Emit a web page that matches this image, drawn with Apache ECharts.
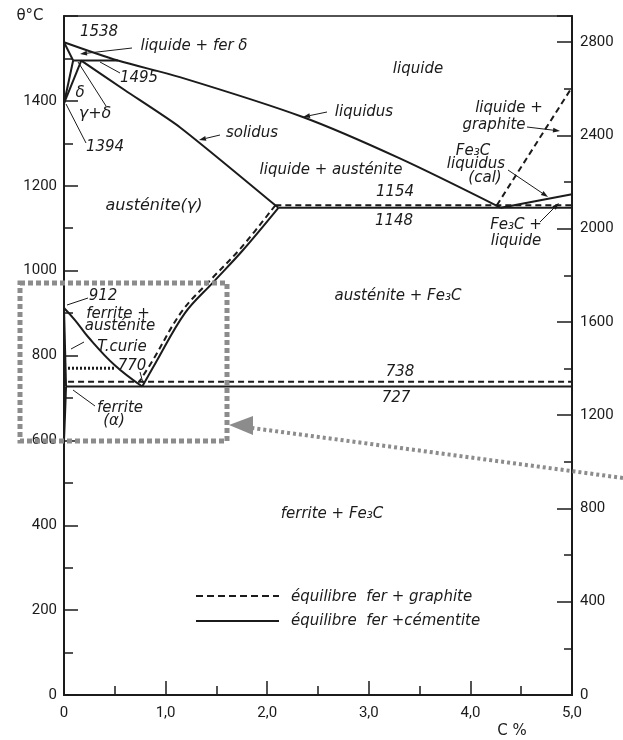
<!DOCTYPE html>
<html><head><meta charset="utf-8">
<script src="https://cdn.jsdelivr.net/npm/echarts@6/dist/echarts.min.js"></script>
<style>html,body{margin:0;padding:0;background:#fff}#chart{width:623px;height:740px}</style>
</head><body><div id="chart"></div>
<script>
// Characteristic temperatures, °C
const T_FUSION = 1538, T_PERITECTIC = 1495, T_DELTA_GAMMA = 1394;
const T_EUTECTIC = 1148, T_EUTECTIC_GR = 1154;
const T_A3_PURE = 912, T_CURIE = 770, T_EUTECTOID = 727, T_EUTECTOID_GR = 738;

// Fe – Fe3C system (solid lines), points as [C %, °C]
const liquidus = [[0, 1538], [0.53, 1495], [1.14, 1456], [2.35, 1362], [3.3, 1265], [4.3, 1148]];
const deltaSolidus = [[0, 1538], [0.09, 1495]];
const peritectic = [[0.09, 1495], [0.53, 1495]];
const deltaLimit = [[0.09, 1495], [0, 1394]];
const gammaLimit = [[0.17, 1495], [0, 1394]];
const solidus = [[0.17, 1495], [0.6, 1425], [1.14, 1338], [2.11, 1148]];
const eutectic = [[2.11, 1148], [5, 1148]];
const acm = [[2.11, 1148], [1.76, 1048], [1.47, 973], [1.19, 900], [0.9, 782], [0.77, 727]];
const a3 = [[0, 912], [0.11, 883], [0.24, 843], [0.5, 777], [0.77, 727]];
const alphaLimit = [[0, 912], [0.02, 727]];
const alphaSolvus = [[0.02, 727], [0.01, 660], [0, 600]];
const eutectoid = [[0.02, 727], [5, 727]];
const cementiteLiquidus = [[4.3, 1148], [5, 1180]];

// Fe – graphite system (dashed lines)
const eutecticGr = [[2.08, 1154], [5, 1154]];
const eutectoidGr = [[0.04, 738], [5, 738]];
const acmGr = [[2.08, 1154], [1.74, 1053], [1.45, 980], [1.16, 904], [0.87, 787], [0.74, 738]];
const graphiteLiquidus = [[4.26, 1154], [5, 1432]];

// Curie temperature of ferrite (dotted)
const curie = [[0, 770], [0.5, 770]];

const INK = '#1b1b1b';

// [points, smoothing]
const solidSets = [[liquidus, 0.3], [deltaSolidus, 0], [peritectic, 0], [deltaLimit, 0], [gammaLimit, 0],
  [solidus, 0.2], [eutectic, 0], [acm, 0.35], [a3, 0.4], [alphaLimit, 0], [alphaSolvus, 0.3],
  [eutectoid, 0], [cementiteLiquidus, 0]];
const dashedSets = [[eutecticGr, 0], [eutectoidGr, 0], [acmGr, 0.35], [graphiteLiquidus, 0]];

const series = [];
dashedSets.forEach(([d, s]) => series.push({
  type: 'line', data: d, symbol: 'none', silent: true, smooth: s,
  lineStyle: { color: INK, width: 2, type: [6, 4] }, z: 3
}));
solidSets.forEach(([d, s]) => series.push({
  type: 'line', data: d, symbol: 'none', silent: true, smooth: s,
  lineStyle: { color: INK, width: 2, type: 'solid' }, z: 4
}));
series.push({
  type: 'line', data: curie, symbol: 'none', silent: true,
  lineStyle: { color: INK, width: 3, type: [2, 2] }, z: 4
});

const LABEL_FONT = 'italic 15px "DejaVu Sans"';
function txt(s, x, y, font, align) {
  return { type: 'text', x: x, y: y, z: 20, silent: true,
    style: { text: s, font: font || LABEL_FONT, fill: INK, align: align || 'center', verticalAlign: 'middle' } };
}
function seg(x1, y1, x2, y2, w, dash) {
  return { type: 'line', z: 20, silent: true, shape: { x1, y1, x2, y2 },
    style: { stroke: INK, lineWidth: w || 1, lineDash: dash || null } };
}
function arrow(x1, y1, x2, y2) {
  const dx = x2 - x1, dy = y2 - y1, L = Math.hypot(dx, dy);
  const ux = dx / L, uy = dy / L, h = 7, w = 2.4;
  const bx = x2 - ux * h, by = y2 - uy * h;
  return [seg(x1, y1, bx, by),
    { type: 'polygon', z: 20, silent: true,
      shape: { points: [[x2, y2], [bx - uy * w, by + ux * w], [bx + uy * w, by - ux * w]] },
      style: { fill: INK } }];
}

const GREY = '#8c8c8c';
const graphics = [
  txt('θ°C', 30, 16, '15px "DejaVu Sans"'),
  txt('C %', 512, 731, '15px "DejaVu Sans"'),
  txt(String(T_FUSION), 99, 32),
  txt('liquide + fer δ', 194, 46),
  ...arrow(132, 48, 80, 54),
  txt(String(T_PERITECTIC), 139, 78),
  seg(120, 73, 100, 62),
  txt('δ', 80, 93),
  txt('γ+δ', 95, 114, 'italic 16px "DejaVu Sans"'),
  seg(106, 106, 78, 62),
  txt(String(T_DELTA_GAMMA), 105, 147),
  seg(86, 143, 66, 104),
  txt('liquide', 418, 69),
  txt('liquidus', 364, 112),
  ...arrow(327, 112, 303, 117),
  txt('solidus', 252, 133),
  ...arrow(220, 135, 199, 140),
  txt('liquide + austénite', 331, 170),
  txt(String(T_EUTECTIC_GR), 395, 192),
  txt(String(T_EUTECTIC), 394, 221),
  txt('austénite(γ)', 154, 206, 'italic 16px "DejaVu Sans"'),
  txt('liquide +', 509, 108),
  txt('graphite', 494, 125),
  ...arrow(527, 127, 560, 131),
  txt('Fe₃C', 473, 151),
  txt('liquidus', 476, 164),
  txt('(cal)', 485, 178),
  ...arrow(508, 170, 548, 197),
  txt('Fe₃C +', 516, 225),
  txt('liquide', 516, 241),
  ...arrow(540, 222, 559, 203),
  txt('austénite + Fe₃C', 398, 296),
  txt(String(T_A3_PURE), 103, 296),
  seg(88, 298, 67, 305),
  txt('ferrite +', 118, 314),
  txt('austénite', 120, 326),
  txt('T.curie', 122, 347),
  seg(84, 342, 71, 349),
  txt(String(T_CURIE), 132, 366),
  seg(140, 372, 143, 383),
  txt(String(T_EUTECTOID_GR), 400, 372),
  txt(String(T_EUTECTOID), 396, 398),
  txt('ferrite', 120, 408),
  txt('(α)', 114, 421),
  seg(95, 406, 73, 390),
  txt('ferrite + Fe₃C', 332, 514),
  // key
  seg(196, 596, 279, 596, 2, [7, 4]),
  seg(196, 621, 279, 621, 2),
  txt('équilibre  fer + graphite', 291, 597, null, 'left'),
  txt('équilibre  fer +cémentite', 291, 621, null, 'left'),
  // highlight frame around the low-carbon region and its pointer
  { type: 'rect', z: 30, silent: true, shape: { x: 20, y: 283, width: 207, height: 158 },
    style: { stroke: GREY, fill: null, lineWidth: 5, lineDash: [5, 3] } },
  { type: 'line', z: 30, silent: true, shape: { x1: 623, y1: 478, x2: 252, y2: 428 },
    style: { stroke: GREY, lineWidth: 4, lineDash: [3, 3] } },
  { type: 'polygon', z: 30, silent: true, shape: { points: [[229, 425], [253, 416], [253, 435]] },
    style: { fill: GREY } }
];

const axisFont = { fontFamily: 'Roboto', fontSize: 15, color: INK };
const chart = echarts.init(document.getElementById('chart'));
chart.setOption({
  animation: false,
  backgroundColor: '#fff',
  grid: { left: 64, right: 51, top: 16, bottom: 45, show: true, borderColor: INK, borderWidth: 1.5 },
  xAxis: {
    type: 'value', min: 0, max: 5, interval: 1,
    axisLine: { lineStyle: { color: INK, width: 2 } },
    axisTick: { inside: true, length: 14, lineStyle: { color: INK, width: 1.5 } },
    minorTick: { show: true, splitNumber: 2, length: 9, lineStyle: { color: INK, width: 1.5 } },
    splitLine: { show: false },
    axisLabel: Object.assign({ margin: 11, formatter: v => v === 0 ? '0' : v.toFixed(1).replace('.', ',') }, axisFont)
  },
  yAxis: [
    {
      type: 'value', min: 0, max: 1600, interval: 200, position: 'left',
      axisLine: { show: true, lineStyle: { color: INK, width: 2 } },
      axisTick: { inside: true, length: 14, lineStyle: { color: INK, width: 1.5 } },
      minorTick: { show: true, splitNumber: 2, length: 9, lineStyle: { color: INK, width: 1.5 } },
      splitLine: { show: false },
      axisLabel: Object.assign({ margin: 7, formatter: v => (v % 200 === 0 && v < 1600) ? String(v) : '' }, axisFont)
    },
    {
      // °F scale, labelled every 400
      type: 'value', min: 0, max: 2912, interval: 400, position: 'right',
      axisLine: { show: true, lineStyle: { color: INK, width: 2 } },
      axisTick: { inside: true, length: 15, lineStyle: { color: INK, width: 1.5 } },
      splitLine: { show: false },
      axisLabel: Object.assign({ margin: 8, formatter: v => v % 400 === 0 ? String(v) : '' }, axisFont)
    },
    {
      // °F minor ticks every 200
      type: 'value', min: 0, max: 2912, interval: 200, position: 'right',
      axisLine: { show: false },
      axisTick: { inside: true, length: 8, lineStyle: { color: INK, width: 1.5 } },
      splitLine: { show: false },
      axisLabel: { show: false }
    }
  ],
  series: series,
  graphic: graphics
});
</script></body></html>
